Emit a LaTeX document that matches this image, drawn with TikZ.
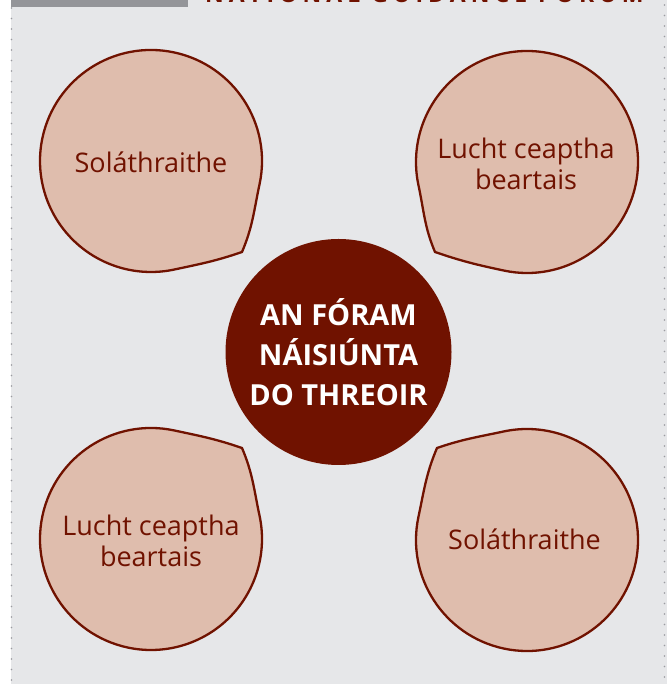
\documentclass[tikz,border=0pt]{standalone}
\usepackage{fontspec}
\setmainfont{Open Sans}
\usepackage{tikz}
\usepackage{color}
\definecolor{forumred}{RGB}{112,18,0}
\definecolor{bubblefill}{RGB}{223,189,173}
\definecolor{panelgray}{RGB}{230,231,233}
\definecolor{bargray}{RGB}{148,149,153}
\definecolor{dotgray}{RGB}{155,155,160}
\tikzset{
  bubble/.style={draw=forumred,fill=bubblefill,line width=2.3pt},
  bubbletext/.style={text=forumred,align=center,font=\fontsize{27}{31}\selectfont},
  hub/.style={circle,fill=forumred,minimum size=226pt,inner sep=0pt,text=white,align=center,font=\bfseries\fontsize{29}{40}\selectfont},
  dotline/.style={dotgray,line width=1.8pt,line cap=round,dash pattern=on 0pt off 10.5pt}
}
\begin{document}
\begin{tikzpicture}[x=1pt,y=1pt]
\useasboundingbox (0,0) rectangle (667,684);
\clip (0,0) rectangle (667,684);
\fill[panelgray] (11,0) rectangle (667,684);
\fill[bargray] (11,676.5) rectangle (188,684);
\draw[dotline] (11.5,676) -- (11.5,0);
\draw[dotline] (664.5,679) -- (664.5,0);
\node[anchor=base west,inner sep=0pt,text=forumred,font=\bfseries\fontsize{23}{23}\selectfont\addfontfeatures{LetterSpace=22}] (title) at (205,681) {NATIONAL GUIDANCE FORUM};
\draw[bubble] ([shift={(-12:111)}]151,523) arc[start angle=-12,end angle=282,radius=111] to[out=12,in=199] (242,432) to[out=67,in=258] cycle;
\draw[bubble] ([shift={(258:111)}]527,522) arc[start angle=258,end angle=552,radius=111] to[out=282,in=113] (435,432) to[out=341,in=168] cycle;
\draw[bubble] ([shift={(78:111)}]151,145) arc[start angle=78,end angle=372,radius=111] to[out=102,in=293] (242,236) to[out=161,in=348] cycle;
\draw[bubble] ([shift={(168:111)}]527,144) arc[start angle=168,end angle=462,radius=111] to[out=192,in=19] (437,236) to[out=247,in=78] cycle;
\node[bubbletext,anchor=base] (providersTL) at (151,511) {Soláthraithe};
\node[bubbletext] (policyTR) at (526,520) {Lucht ceaptha\\beartais};
\node[bubbletext] (policyBL) at (151,143) {Lucht ceaptha\\beartais};
\node[bubbletext,anchor=base] (providersBR) at (524.5,134) {Soláthraithe};
\node[hub] (forum) at (338.5,332) {AN FÓRAM\\NÁISIÚNTA\\DO THREOIR};
\end{tikzpicture}
\end{document}
